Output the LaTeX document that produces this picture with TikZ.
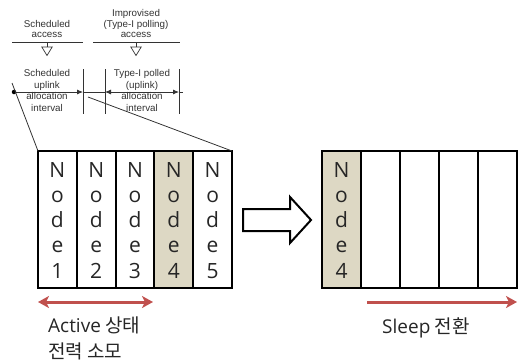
\documentclass[tikz,border=0pt]{standalone}
\usepackage{fontspec}
\setmainfont{Liberation Sans}
\newfontfamily\kr{Noto Sans CJK KR}
\newfontfamily\os{Open Sans}
\usetikzlibrary{arrows.meta}
\definecolor{tanfill}{HTML}{DDD8C4}
\definecolor{accent}{HTML}{C0504D}

\begin{document}
\begin{tikzpicture}[x=1pt,y=-1pt,
  small/.style={font=\fontsize{9.8}{11.5}\selectfont, text=black!80, inner sep=0, anchor=base},
  thin line/.style={draw=black!80, line width=0.8pt},
  cell/.style={draw, line width=2pt, minimum width=38.8pt, minimum height=137pt,
    inner sep=0, outer sep=0, anchor=north west},
  rcell/.style={cell, minimum width=39pt},
  letter/.style={font=\os\fontsize{21}{24}\selectfont, text=black!85, inner sep=0, anchor=base},
  label/.style={font=\kr\fontsize{19}{24}\selectfont, text=black!85, inner sep=0, anchor=base west},
  redarrow/.style={draw=accent, line width=3pt,
    arrows={-Stealth[length=11pt,width=12pt,inset=3pt]}},
  tri/.style={draw=black!80, line width=0.7pt, fill=white, line join=miter}
]
\useasboundingbox (0,0) rectangle (518,362);

% --- access labels and their rules
\node[small] (sa1) at (47,27) {Scheduled};
\node[small] (sa2) at (47,37.5) {access};
\node[small] (ia1) at (136,16.5) {Improvised};
\node[small] (ia2) at (136,27) {(Type-I polling)};
\node[small] (ia3) at (136,37.5) {access};
\coordinate (rA0) at (12,42);  \coordinate (rA1) at (83,42);
\coordinate (rB0) at (93,42);  \coordinate (rB1) at (180,42);
\draw[thin line] (rA0) -- (rA1);
\draw[thin line] (rB0) -- (rB1);

% downward hollow triangles
\foreach \cx/\nm in {47/tA, 136/tB}{
  \coordinate (\nm s) at (\cx,42);
  \coordinate (\nm t) at (\cx,47);
  \draw[thin line] (\nm s) -- (\nm t);
  \draw[tri] (\cx-5.2,47) -- (\cx+5.2,47) -- (\cx,55.5) -- cycle;
}

% --- interval labels
\node[small] (su1) at (47,76.5) {Scheduled};
\node[small] (su2) at (47,88) {uplink};
\node[small] (su3) at (47,99.5) {allocation};
\node[small] (su4) at (47,111) {interval};
\node[small] (tp1) at (142,76.5) {Type-I polled};
\node[small] (tp2) at (142,88) {(uplink)};
\node[small] (tp3) at (142,99.5) {allocation};
\node[small] (tp4) at (142,111) {interval};

% interval boundaries
\foreach \vx/\nm in {83/vA, 105/vB, 179/vC}{
  \coordinate (\nm0) at (\vx,69);
  \coordinate (\nm1) at (\vx,114);
  \draw[thin line] (\nm0) -- (\nm1);
}

% time axis with interval arrows
\coordinate (hL) at (12,92);
\coordinate (hA) at (83,92);
\coordinate (hB) at (105,92);
\coordinate (hC) at (179,92);
\coordinate (hR) at (183,92);
\draw[thin line, -{Latex[length=6pt,width=5pt]}] (hL) -- (hA);
\draw[thin line] (hA) -- (hB);
\draw[thin line, {Latex[length=6pt,width=5pt]}-{Latex[length=6pt,width=5pt]}] (hB) -- (hC);
\draw[thin line] (hC) -- (hR);
\node[circle, fill=black, inner sep=0, minimum size=4.5pt] (dot) at (14,92) {};

% --- active frame
\foreach \i/\x in {1/38, 2/76.8, 3/115.6, 4/154.4, 5/193.2}{
  \ifnum\i=4
    \node[cell, fill=tanfill] (c\i) at (\x,151) {};
  \else
    \node[cell] (c\i) at (\x,151) {};
  \fi
  \foreach \ch/\y [count=\k] in {N/177, o/202, d/227, e/252.5, \i/278}{
    \node[letter] (l\i\k) at (\x+19.4,\y) {\ch};
  }
}

% zoom lines from the time axis to the frame
\coordinate (zA) at (12,83);
\coordinate (zB) at (88,97);
\draw[thin line] (zA) -- (c1.north west);
\draw[thin line] (zB) -- (c5.north east);

% --- transition arrow
\draw[line width=2pt, fill=white, line join=miter]
  (243,209) -- (290,209) -- (290,197) -- (311,220) -- (290,243) -- (290,231) -- (243,231) -- cycle;

% --- sleep frame
\foreach \i/\x in {1/322, 2/361, 3/400, 4/439, 5/478}{
  \ifnum\i=1
    \node[rcell, fill=tanfill] (d\i) at (\x,151) {};
  \else
    \node[rcell] (d\i) at (\x,151) {};
  \fi
}
\foreach \ch/\y [count=\k] in {N/177, o/202, d/227, e/252.5, 4/278}{
  \node[letter] (m\k) at (341.5,\y) {\ch};
}

% --- red arrows and captions
\coordinate (aL) at (38,302);
\coordinate (aR) at (153,302);
\draw[redarrow, arrows={Stealth[length=11pt,width=12pt,inset=3pt]-Stealth[length=11pt,width=12pt,inset=3pt]}] (aL) -- (aR);
\coordinate (sL) at (367,302);
\coordinate (sR) at (517,302);
\draw[redarrow] (sL) -- (sR);

\node[label] (act1) at (48,332) {{\os\fontsize{19}{24}\selectfont Active} 상태};
\node[label] (act2) at (48,358) {전력 소모};
\node[label] (slp) at (382,333) {{\os\fontsize{19}{24}\selectfont Sleep} 전환};
\end{tikzpicture}
\end{document}
